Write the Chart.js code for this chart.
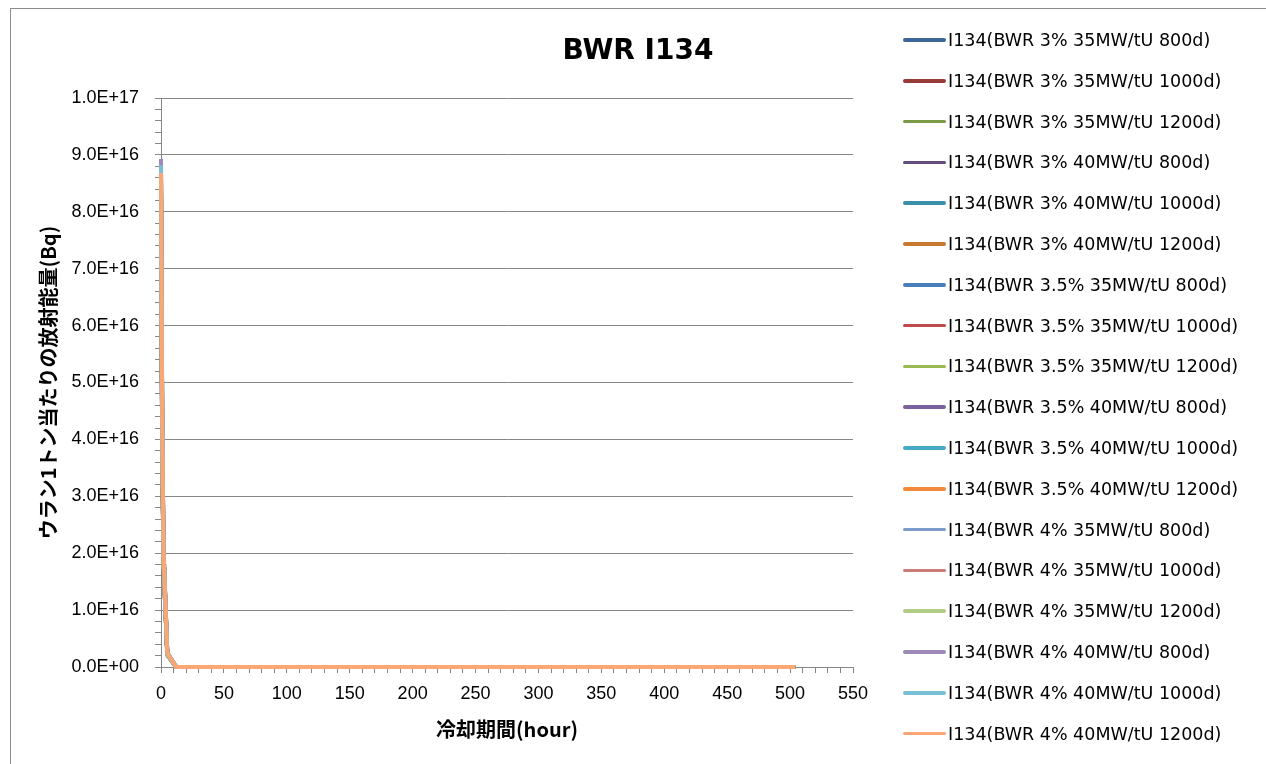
<!DOCTYPE html>
<html lang="ja">
<head>
<meta charset="utf-8">
<title>BWR I134</title>
<script src="https://cdn.jsdelivr.net/npm/chart.js@4"></script>
<style>
    html, body { margin: 0; padding: 0; background: #fff; overflow: hidden; }
    #wrap { position: relative; width: 1266px; height: 764px; }
    #frame { position: absolute; left: 10px; top: 8px; width: 1400px; height: 900px; border: 1px solid #8c8c8c; }
    #chart { position: absolute; left: 0; top: 0; }
    #legend { position: absolute; left: 903px; top: 0; font-family: "DejaVu Sans", sans-serif; font-size: 17.5px; color: #000; }
    #legend .item { position: absolute; left: 0; display: flex; align-items: center; white-space: nowrap; height: 24px; }
    #legend .swatch { width: 43px; height: 3.5px; border-radius: 2px; margin-right: 2px; }
</style>
</head>
<body>
<div id="wrap">
    <div id="frame"></div>
    <canvas id="chart" width="1266" height="764"></canvas>
    <div id="legend"></div>
</div>
<script>
// 冷却時間 (hour)
const hours = [0, 1, 2, 5, 12, 24, 48, 168, 336, 504];

// 各ケースの放射能量 (Bq / tU)
const v3_35_800   = [7.58e16, 3.75e16, 1.80e16, 2.15e15, 1.14e13, 4.2e8, 2.3, 0, 0, 0];
const v3_35_1000  = [7.60e16, 3.76e16, 1.80e16, 2.16e15, 1.14e13, 4.3e8, 2.3, 0, 0, 0];
const v3_35_1200  = [7.61e16, 3.77e16, 1.80e16, 2.16e15, 1.14e13, 4.3e8, 2.3, 0, 0, 0];
const v3_40_800   = [8.60e16, 4.26e16, 2.04e16, 2.44e15, 1.29e13, 4.8e8, 2.6, 0, 0, 0];
const v3_40_1000  = [8.62e16, 4.27e16, 2.04e16, 2.45e15, 1.29e13, 4.8e8, 2.6, 0, 0, 0];
const v3_40_1200  = [8.63e16, 4.27e16, 2.05e16, 2.45e15, 1.29e13, 4.8e8, 2.6, 0, 0, 0];
const v35_35_800  = [7.62e16, 3.77e16, 1.81e16, 2.16e15, 1.14e13, 4.3e8, 2.3, 0, 0, 0];
const v35_35_1000 = [7.64e16, 3.78e16, 1.81e16, 2.17e15, 1.15e13, 4.3e8, 2.3, 0, 0, 0];
const v35_35_1200 = [7.65e16, 3.79e16, 1.81e16, 2.17e15, 1.15e13, 4.3e8, 2.3, 0, 0, 0];
const v35_40_800  = [8.64e16, 4.28e16, 2.05e16, 2.45e15, 1.30e13, 4.8e8, 2.6, 0, 0, 0];
const v35_40_1000 = [8.66e16, 4.29e16, 2.05e16, 2.46e15, 1.30e13, 4.8e8, 2.6, 0, 0, 0];
const v35_40_1200 = [8.67e16, 4.29e16, 2.05e16, 2.46e15, 1.30e13, 4.9e8, 2.6, 0, 0, 0];
const v4_35_800   = [7.66e16, 3.79e16, 1.82e16, 2.18e15, 1.15e13, 4.3e8, 2.3, 0, 0, 0];
const v4_35_1000  = [7.68e16, 3.80e16, 1.82e16, 2.18e15, 1.15e13, 4.3e8, 2.3, 0, 0, 0];
const v4_35_1200  = [7.69e16, 3.81e16, 1.82e16, 2.18e15, 1.15e13, 4.3e8, 2.3, 0, 0, 0];
const v4_40_800   = [8.93e16, 4.42e16, 2.12e16, 2.54e15, 1.34e13, 5.0e8, 2.7, 0, 0, 0];
const v4_40_1000  = [8.82e16, 4.37e16, 2.09e16, 2.50e15, 1.32e13, 4.9e8, 2.6, 0, 0, 0];
const v4_40_1200  = [8.68e16, 4.30e16, 2.06e16, 2.47e15, 1.30e13, 4.9e8, 2.6, 0, 0, 0];

const seriesData = [
    v3_35_800, v3_35_1000, v3_35_1200, v3_40_800, v3_40_1000, v3_40_1200,
    v35_35_800, v35_35_1000, v35_35_1200, v35_40_800, v35_40_1000, v35_40_1200,
    v4_35_800, v4_35_1000, v4_35_1200, v4_40_800, v4_40_1000, v4_40_1200
];

const seriesLabels = [
    'I134(BWR 3% 35MW/tU 800d)', 'I134(BWR 3% 35MW/tU 1000d)', 'I134(BWR 3% 35MW/tU 1200d)',
    'I134(BWR 3% 40MW/tU 800d)', 'I134(BWR 3% 40MW/tU 1000d)', 'I134(BWR 3% 40MW/tU 1200d)',
    'I134(BWR 3.5% 35MW/tU 800d)', 'I134(BWR 3.5% 35MW/tU 1000d)', 'I134(BWR 3.5% 35MW/tU 1200d)',
    'I134(BWR 3.5% 40MW/tU 800d)', 'I134(BWR 3.5% 40MW/tU 1000d)', 'I134(BWR 3.5% 40MW/tU 1200d)',
    'I134(BWR 4% 35MW/tU 800d)', 'I134(BWR 4% 35MW/tU 1000d)', 'I134(BWR 4% 35MW/tU 1200d)',
    'I134(BWR 4% 40MW/tU 800d)', 'I134(BWR 4% 40MW/tU 1000d)', 'I134(BWR 4% 40MW/tU 1200d)'
];

const seriesColors = [
    '#3c6696', '#993b39', '#7c9a45', '#634d80', '#3a8fa6', '#c8782f',
    '#4a7ebb', '#be4b48', '#98b954', '#7d60a0', '#46aac5', '#f18b3b',
    '#7d9ccd', '#cd7b79', '#b3cc87', '#9c8ab8', '#79bfd3', '#f9a874'
];

const GRID = '#868686';

// 1.0E+17 の形式
function fmtE(v) {
    const [m, e] = v.toExponential(1).split('e');
    const n = Number(e);
    return m + 'E' + (n < 0 ? '-' : '+') + String(Math.abs(n)).padStart(2, '0');
}

const isMajorY = v => Math.round(v / 1e15) % 10 === 0;

const datasets = seriesData.map((vals, i) => ({
    label: seriesLabels[i],
    data: hours.map((h, k) => ({ x: h, y: vals[k] })),
    borderColor: seriesColors[i],
    backgroundColor: seriesColors[i],
    borderWidth: 4,
    pointRadius: 0,
    tension: 0,
    clip: 6,
    order: seriesData.length - 1 - i   // 後のシリーズを上に描く
}));

const chart = new Chart(document.getElementById('chart'), {
    type: 'line',
    data: { datasets },
    options: {
        responsive: false,
        animation: false,
        layout: { padding: { left: 10, top: 0, right: 0, bottom: 0 } },
        plugins: {
            legend: { display: false },
            tooltip: { enabled: false },
            title: {
                display: true,
                text: 'BWR I134',
                color: '#000',
                font: { family: '"DejaVu Sans", sans-serif', size: 28, weight: 'bold' },
                padding: { top: 35, bottom: 29.4 }
            }
        },
        scales: {
            x: {
                type: 'linear',
                min: 0,
                max: 550,
                afterFit: s => { s.height = 97; },
                ticks: {
                    stepSize: 10,
                    autoSkip: false,
                    maxRotation: 0,
                    padding: 10,
                    color: '#000',
                    font: { family: '"Liberation Sans", sans-serif', size: 18 },
                    callback: v => (v % 50 === 0 ? String(v) : '')
                },
                grid: { drawOnChartArea: false, color: GRID, tickLength: 6 },
                border: { color: GRID, width: 1 },
                title: {
                    display: true,
                    text: '冷却期間(hour)',
                    color: '#000',
                    font: { family: '"Noto Sans CJK JP", sans-serif', size: 20, weight: 'bold' },
                    padding: { top: 0, bottom: 23 }
                }
            },
            y: {
                min: 0,
                max: 1e17,
                afterFit: s => { s.width = 151; },
                ticks: {
                    stepSize: 2e15,
                    autoSkip: false,
                    padding: 16,
                    color: '#000',
                    font: { family: '"Liberation Sans", sans-serif', size: 18 },
                    callback: v => (isMajorY(v) ? fmtE(v) : '')
                },
                grid: {
                    color: ctx => (ctx.tick && isMajorY(ctx.tick.value) ? GRID : 'rgba(0,0,0,0)'),
                    tickColor: GRID,
                    tickLength: 6
                },
                border: { color: GRID, width: 1 },
                title: {
                    display: true,
                    text: 'ウラン1トン当たりの放射能量(Bq)',
                    color: '#000',
                    font: { family: '"Noto Sans CJK JP", sans-serif', size: 20, weight: 'bold' },
                    padding: { top: 26, bottom: 0 }
                }
            },
            // 右側の凡例スペース用（描画なし）
            yRight: {
                position: 'right',
                display: true,
                afterFit: s => { s.width = 413; },
                ticks: { display: false },
                grid: { display: false },
                border: { display: false }
            }
        }
    }
});

// 凡例 (HTML)
const legendEl = document.getElementById('legend');
chart.data.datasets.forEach((ds, i) => {
    const item = document.createElement('div');
    item.className = 'item';
    item.style.top = (40 + i * 40.8 - 12) + 'px';
    item.innerHTML = `<span class="swatch" style="background:${ds.borderColor}"></span><span>${ds.label}</span>`;
    legendEl.appendChild(item);
});
</script>
</body>
</html>
